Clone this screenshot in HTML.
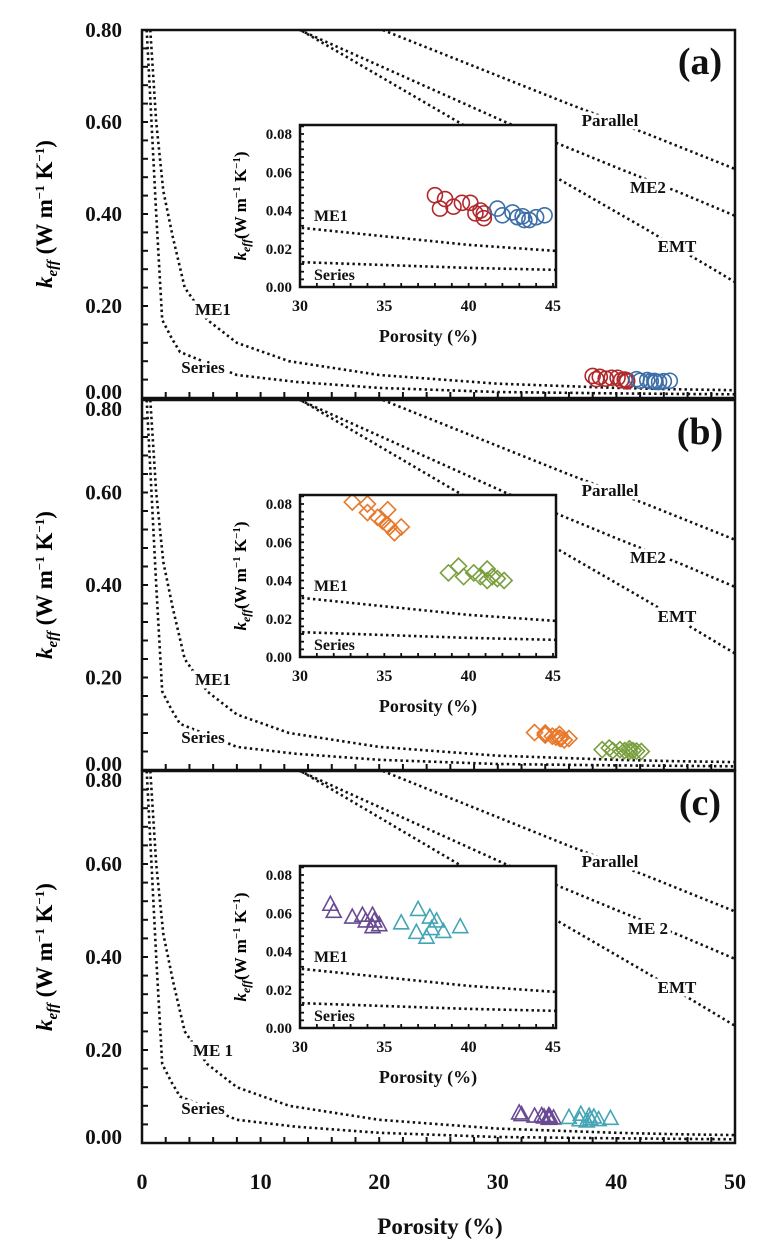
<!DOCTYPE html>
<html><head><meta charset="utf-8">
<style>
html,body{margin:0;padding:0;background:#fff;}
svg{display:block;font-family:"Liberation Serif",serif;font-weight:bold;}
</style></head>
<body>
<svg id="chart" width="771" height="1251" viewBox="0 0 771 1251" xmlns="http://www.w3.org/2000/svg"></svg>
<script>
// ---- model curve data (porosity %, keff) ----
const parallelX = [20.3, 35.8, 42.4, 49.8, 50];
const parallelY = [0.80, 0.641, 0.576, 0.50, 0.497];
const me2X = [13.3, 30.8, 35.0, 40.1, 45.4, 50];
const me2Y = [0.80, 0.598, 0.554, 0.50, 0.446, 0.396];
const emtX = [13.1, 26.8, 35.0, 42.3, 50];
const emtY = [0.804, 0.598, 0.478, 0.37, 0.252];
const me1X = [0.7, 1.2, 1.8, 2.6, 3.6, 5.5, 8, 12.4, 20, 30, 40, 45, 50];
const me1Y = [0.80, 0.60, 0.45, 0.35, 0.24, 0.17, 0.12, 0.08, 0.05, 0.031, 0.022, 0.019, 0.017];
const seriesX = [0.4, 0.8, 1.2, 1.7, 2.5, 3.2, 8, 13, 20, 30, 40, 45, 50];
const seriesY = [0.80, 0.60, 0.40, 0.17, 0.13, 0.10, 0.05, 0.035, 0.022, 0.013, 0.010, 0.009, 0.008];
// ---- measured data ----
const redX = [38.0, 38.6, 38.3, 39.1, 39.6, 40.1, 40.4, 40.9, 40.9, 40.7];
const redY = [0.048, 0.046, 0.041, 0.042, 0.044, 0.044, 0.0385, 0.0385, 0.036, 0.040];
const blueX = [41.7, 42.0, 42.6, 42.9, 43.3, 43.6, 44.0, 44.5, 43.2];
const blueY = [0.041, 0.0375, 0.039, 0.0365, 0.035, 0.035, 0.0365, 0.0375, 0.037];
const orangeX = [33.1, 34.0, 34.0, 34.6, 35.2, 34.9, 35.2, 35.6, 36.0, 35.3];
const orangeY = [0.081, 0.080, 0.0755, 0.073, 0.077, 0.071, 0.069, 0.065, 0.068, 0.068];
const greenX = [38.8, 39.4, 39.7, 40.3, 40.7, 41.1, 41.1, 41.4, 42.1, 41.7];
const greenY = [0.044, 0.0475, 0.042, 0.044, 0.042, 0.046, 0.040, 0.042, 0.040, 0.041];
const purpleX = [31.8, 32.0, 33.1, 33.7, 34.3, 33.9, 34.4, 34.3, 34.7];
const purpleY = [0.0647, 0.061, 0.058, 0.059, 0.059, 0.056, 0.056, 0.053, 0.054];
const tealX = [36.0, 37.0, 37.7, 36.9, 37.5, 38.1, 37.8, 38.5, 39.5];
const tealY = [0.055, 0.062, 0.058, 0.050, 0.0475, 0.056, 0.052, 0.0505, 0.053];
const mainYTicks = ["0.00","0.20","0.40","0.60","0.80"];
const mainXTicks = ["0","10","20","30","40","50"];
const insetYTicks = ["0.00","0.02","0.04","0.06","0.08"];
const insetXTicks = ["30","35","40","45"];

const NS = "http://www.w3.org/2000/svg";
const svg = document.getElementById("chart");
function mk(tag, attrs, parent){
  const e = document.createElementNS(NS, tag);
  for (const k in attrs) e.setAttribute(k, attrs[k]);
  (parent||svg).appendChild(e);
  return e;
}
const X0 = 142, X1 = 735;
function mx(v){ return X0 + (v/50)*(X1-X0); }

const panels = [
  {top:30, bottom:398, letter:"(a)", me2:"ME2", me1:"ME1", sets:[[redX,redY,"circle","#b0282c"],[blueX,blueY,"circle","#3c6ea8"]]},
  {top:400, bottom:770, letter:"(b)", me2:"ME2", me1:"ME1", sets:[[orangeX,orangeY,"diamond","#e8782a"],[greenX,greenY,"diamond","#7a9f3e"]]},
  {top:771, bottom:1143, letter:"(c)", me2:"ME 2", me1:"ME 1", sets:[[purpleX,purpleY,"tri","#6a4a92"],[tealX,tealY,"tri","#45a5b5"]]}
];

function drawMarker(g, type, cx, cy, color){
  let m;
  if (type === "circle") m = mk("circle",{cx:cx,cy:cy,r:7.5,fill:"none",stroke:color,"stroke-width":1.6},g);
  else if (type === "diamond") m = mk("polygon",{points:`${cx},${cy-8} ${cx+8},${cy} ${cx},${cy+8} ${cx-8},${cy}`,fill:"none",stroke:color,"stroke-width":1.6},g);
  else m = mk("polygon",{points:`${cx},${cy-8} ${cx+7.5},${cy+6} ${cx-7.5},${cy+6}`,fill:"none",stroke:color,"stroke-width":1.6},g);
  
  
}
function curvePath(xs, ys, fx, fy){
  return xs.map((v,i)=>(i?"L":"M")+fx(v).toFixed(1)+","+fy(ys[i]).toFixed(1)).join(" ");
}
function label(g, txt, x, y, size, anchor, halo){
  const t = mk("text",{x:x,y:y,"font-size":size,"text-anchor":anchor||"middle",fill:"#111"},g);
  if (halo){ t.setAttribute("stroke","#fff"); t.setAttribute("stroke-width","7"); t.setAttribute("paint-order","stroke"); }
  t.textContent = txt;
  return t;
}

panels.forEach((p, pi) => {
  const g = mk("g",{});
  
  
  const my = v => p.bottom - (v/0.8)*(p.bottom - p.top);
  const cid = "clip"+pi;
  const cp = mk("clipPath",{id:cid},g);
  mk("rect",{x:X0,y:p.top,width:X1-X0,height:p.bottom-p.top},cp);
  const cg = mk("g",{"clip-path":`url(#${cid})`},g);
  [[parallelX,parallelY,"parallel"],[me2X,me2Y,"me2"],[emtX,emtY,"emt"],[me1X,me1Y,"me1"],[seriesX,seriesY,"series"]].forEach(c=>{
    const path = mk("path",{d:curvePath(c[0],c[1],mx,my),fill:"none",stroke:"#111","stroke-width":2.6,"stroke-dasharray":"2.4 3.2"},cg);
    
    
  });
  p.sets.forEach(s => s[0].forEach((v,i)=>drawMarker(cg, s[2], mx(v), my(s[1][i]), s[3])));
  const fr = mk("rect",{x:X0,y:p.top,width:X1-X0,height:p.bottom-p.top,fill:"none",stroke:"#111","stroke-width":2.5},g);
  
  
  for (let v=0; v<=0.8001; v+=0.04) mk("line",{x1:X0,x2:X0+6,y1:my(v),y2:my(v),stroke:"#111","stroke-width":2},g);
  for (let v=0; v<=50; v+=2) mk("line",{x1:mx(v),x2:mx(v),y1:p.bottom,y2:p.bottom-6,stroke:"#111","stroke-width":2},g);
  mainYTicks.forEach(t=>{
    const v = parseFloat(t);
    let yy = my(v)+7;
    if (v === 0) yy = p.bottom + 1;
    if (v === 0.8 && pi > 0) yy = p.top + 16;
    const e=label(g,t,122,yy,21,"end");
     
  });
  const yc = (p.top+p.bottom)/2;
  const yt = mk("text",{x:0,y:0,"font-size":23,"text-anchor":"middle",transform:`translate(52,${yc}) rotate(-90)`},g);
  
  
  yt.innerHTML = '<tspan font-style="italic">k</tspan><tspan font-style="italic" font-size="15" dy="5">eff</tspan><tspan dy="-5"> (W m</tspan><tspan font-size="13" dy="-8">−1</tspan><tspan dy="8"> K</tspan><tspan font-size="13" dy="-8">−1</tspan><tspan dy="8">)</tspan>';
  const o = p.top - 30;
  [["Parallel",610,126+o],[p.me2,648,193+o],["EMT",677,252+o],[p.me1,213,315+o],["Series",203,373+o]].forEach(l=>{
    const e = label(g,l[0],l[1],l[2],17,"middle",true);
    
    
  });
  const lt = label(g,p.letter,700,74+o,38,"middle");
  
  

  const it = p.top+95, ib = p.top+257, il = 300, ir = 556;
  const ix = v => il + (v-30)/15*253;
  const iy = v => ib - (v/0.08)*(ib - (it+9));
  const ig = mk("g",{});
  
  
  mk("rect",{x:il,y:it,width:ir-il,height:ib-it,fill:"#fff"},ig);
  const icid = "iclip"+pi;
  const icp = mk("clipPath",{id:icid},ig);
  mk("rect",{x:il,y:it,width:ir-il,height:ib-it},icp);
  const icg = mk("g",{"clip-path":`url(#${icid})`},ig);
  [[me1X,me1Y,"inset-me1"],[seriesX,seriesY,"inset-series"]].forEach(c=>{
    const path = mk("path",{d:curvePath(c[0],c[1],ix,iy),fill:"none",stroke:"#111","stroke-width":2.6,"stroke-dasharray":"2.4 3.2"},icg);
    
    
  });
  p.sets.forEach(s => s[0].forEach((v,i)=>drawMarker(icg, s[2], ix(v), iy(s[1][i]), s[3])));
  mk("rect",{x:il,y:it,width:ir-il,height:ib-it,fill:"none",stroke:"#111","stroke-width":2.5},ig);
  for (let v=0; v<=0.0841; v+=0.004) mk("line",{x1:il,x2:il+4,y1:iy(v),y2:iy(v),stroke:"#111","stroke-width":1.8},ig);
  for (let v=30; v<=45; v+=1) mk("line",{x1:ix(v),x2:ix(v),y1:ib,y2:ib-4,stroke:"#111","stroke-width":1.8},ig);
  insetYTicks.forEach(t=>{ const e=label(ig,t,292,iy(parseFloat(t))+5,15,"end");   });
  insetXTicks.forEach(t=>{ const e=label(ig,t,ix(parseFloat(t)),ib+24,16,"middle");   });
  const ixt = label(ig,"Porosity (%)",428,ib+55,18,"middle");
  
  
  const iyt = mk("text",{x:0,y:0,"font-size":17,"text-anchor":"middle",transform:`translate(246,${(it+ib)/2}) rotate(-90)`},ig);
  
  
  iyt.innerHTML = '<tspan font-style="italic">k</tspan><tspan font-style="italic" font-size="12" dy="4">eff</tspan><tspan dy="-4">(W m</tspan><tspan font-size="11" dy="-6">−1</tspan><tspan dy="6"> K</tspan><tspan font-size="11" dy="-6">−1</tspan><tspan dy="6">)</tspan>';
  const l1 = label(ig,"ME1",314,it+96,16,"start");
   
  const l2 = label(ig,"Series",314,it+155,16,"start");
   
});
mainXTicks.forEach(t=>{ const e=label(svg,t,mx(parseFloat(t)),1189,22,"middle");   });
const xt = label(svg,"Porosity (%)",440,1234,23,"middle");


</script>
</body></html>
